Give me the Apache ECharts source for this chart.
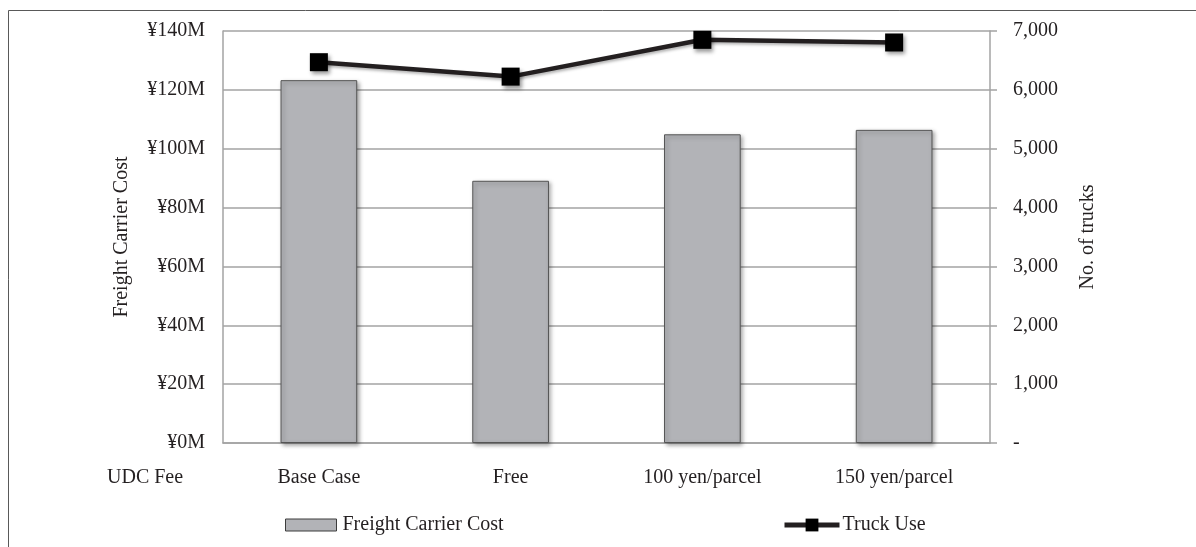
<!DOCTYPE html>
<html>
<head>
<meta charset="utf-8">
<title>Freight Carrier Cost and Truck Use by UDC Fee</title>
<script src="https://cdn.jsdelivr.net/npm/echarts@6/dist/echarts.min.js"></script>
<style>
  html, body { margin: 0; padding: 0; background: #ffffff; }
  #chart { width: 1196px; height: 547px; }
</style>
</head>
<body>
<div id="chart"></div>
<script>
// Scenario categories (UDC fee levels)
const categories = ['Base Case', 'Free', '100 yen/parcel', '150 yen/parcel'];
// Freight carrier cost, in millions of yen
const freightCarrierCost = [123.3, 89.1, 104.9, 106.4];
// Number of trucks used
const truckUse = [6470, 6225, 6850, 6805];

const FONT = '"Liberation Serif", "Times New Roman", serif';
const INK = '#231f20';
const GRID_GRAY = '#a3a3a3';

const chart = echarts.init(document.getElementById('chart'), null, { renderer: 'canvas' });

chart.setOption({
  backgroundColor: '#ffffff',
  animation: false,
  textStyle: { fontFamily: FONT, color: INK },
  grid: { left: 223, right: 206, top: 31, bottom: 104, containLabel: false },
  legend: [
    {
      data: [{ name: 'Freight Carrier Cost', icon: 'rect' }],
      left: 280, top: 510,
      itemWidth: 51, itemHeight: 12,
      textStyle: { fontFamily: FONT, fontSize: 20, color: INK, padding: [0, 0, 0, 1] },
      itemStyle: { borderColor: '#3c3c3c', borderWidth: 1 }
    },
    {
      data: ['Truck Use'],
      left: 777, top: 510,
      itemWidth: 55, itemHeight: 16,
      textStyle: { fontFamily: FONT, fontSize: 20, color: INK, padding: [0, 0, 0, -2] },
      lineStyle: { width: 5, color: INK }
    }
  ],
  xAxis: {
    type: 'category',
    data: categories,
    axisLine: { show: true, lineStyle: { color: GRID_GRAY, width: 1.5 } },
    axisTick: { show: false },
    axisLabel: { fontFamily: FONT, fontSize: 20, color: INK, margin: 25 },
    splitLine: { show: false }
  },
  yAxis: [
    {
      type: 'value',
      min: 0, max: 140, interval: 20,
      name: 'Freight Carrier Cost',
      nameLocation: 'middle',
      nameGap: 91,
      nameRotate: 90,
      nameTextStyle: { fontFamily: FONT, fontSize: 20, color: INK },
      axisLine: { show: true, lineStyle: { color: GRID_GRAY, width: 1.5 } },
      axisTick: { show: false },
      axisLabel: {
        fontFamily: FONT, fontSize: 20, color: INK, margin: 18,
        formatter: v => '\u00A5' + v + 'M'
      },
      splitLine: { show: true, lineStyle: { color: GRID_GRAY, width: 1.5 } }
    },
    {
      type: 'value',
      min: 0, max: 7000, interval: 1000,
      position: 'right',
      name: 'No. of trucks',
      nameLocation: 'middle',
      nameGap: 88,
      nameRotate: 90,
      nameTextStyle: { fontFamily: FONT, fontSize: 20, color: INK },
      axisLine: { show: true, lineStyle: { color: GRID_GRAY, width: 1.5 } },
      axisTick: { show: true, length: 7, lineStyle: { color: GRID_GRAY, width: 1.5 } },
      axisLabel: {
        fontFamily: FONT, fontSize: 20, color: INK, margin: 23,
        formatter: v => v === 0 ? '-' : v.toLocaleString('en-US')
      },
      splitLine: { show: false }
    }
  ],
  series: [
    {
      name: 'Freight Carrier Cost',
      type: 'bar',
      yAxisIndex: 0,
      data: freightCarrierCost,
      barWidth: '40%',
      itemStyle: {
        color: '#b2b3b7',
        borderColor: '#555555',
        borderWidth: 1,
        shadowColor: 'rgba(0,0,0,0.35)',
        shadowBlur: 4,
        shadowOffsetX: 2,
        shadowOffsetY: 2
      },
      z: 2
    },
    {
      name: 'Truck Use',
      type: 'line',
      yAxisIndex: 1,
      data: truckUse,
      symbol: 'rect',
      symbolSize: 18,
      lineStyle: {
        color: INK, width: 4.5,
        shadowColor: 'rgba(0,0,0,0.3)', shadowBlur: 3, shadowOffsetX: 1, shadowOffsetY: 2
      },
      itemStyle: {
        color: '#000000',
        shadowColor: 'rgba(0,0,0,0.4)', shadowBlur: 4, shadowOffsetX: 2, shadowOffsetY: 3
      },
      z: 3
    }
  ],
  graphic: [
    {
      type: 'rect',
      left: 6, top: 8,
      shape: { width: 1189, height: 545 },
      style: { fill: 'none', stroke: '#595959', lineWidth: 1 },
      silent: true
    },
    {
      type: 'text',
      left: 107, top: 468,
      style: { text: 'UDC Fee', font: '20px ' + FONT, fill: INK }
    }
  ]
});
</script>
</body>
</html>
